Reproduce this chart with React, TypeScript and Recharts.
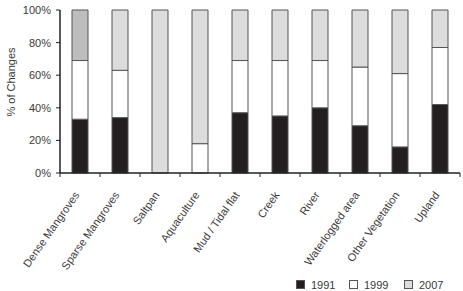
import React from 'react';
import { BarChart, Bar, XAxis, YAxis, Cell } from 'recharts';

const categories = ['Dense Mangroves', 'Sparse Mangroves', 'Saltpan', 'Aquaculture', 'Mud / Tidal flat', 'Creek', 'River', 'Waterlogged area', 'Other Vegetation', 'Upland'];
const v1991 = [33, 34, 0, 0, 37, 35, 40, 29, 16, 42];
const v1999 = [36, 29, 0, 18, 32, 34, 29, 36, 45, 35];
const v2007 = [31, 37, 100, 82, 31, 31, 31, 35, 39, 23];
const yTicks = [0, 20, 40, 60, 80, 100];
const seriesNames = ['1991', '1999', '2007'];

const data = categories.map((c, i) => ({ name: c, a: v1991[i], b: v1999[i], c: v2007[i] }));

const FONT = '"Liberation Sans", Arial, sans-serif';
const TXT = '#3a3a3a';
const AXIS = '#222';
const EDGE = '#555';
const BLACK = '#231f20';
const GRAY = '#dcdcdc';
const GRAY_DARK = '#bdbdbd';

const XTick = (props: any) => {
  const { x, y, payload, index, visibleTicksCount } = props;
  const off = payload && payload.offset ? payload.offset : 20;
  const isLast = index === (visibleTicksCount ?? categories.length) - 1;
  const tx = x;
  const ty = y + 22;
  return (
    <g>
      <line x1={x - off} x2={x - off} y1={y} y2={y + 4} stroke={AXIS} strokeWidth={1} />
      {isLast && <line x1={x + off} x2={x + off} y1={y} y2={y + 4} stroke={AXIS} strokeWidth={1} />}
      <text x={tx} y={ty} textAnchor="end" fontSize={11} fontFamily={FONT} fill={TXT} transform={`rotate(-55, ${tx}, ${ty})`}>
        {payload.value}
      </text>
    </g>
  );
};

const LegendBox = () => {
  const fills = [BLACK, '#ffffff', GRAY];
  const xs = [0, 53, 108];
  return (
    <svg width={170} height={14} style={{ position: 'absolute', left: 296, top: 276, overflow: 'visible' }}>
      {seriesNames.map((n, i) => (
        <g key={n}>
          <rect x={xs[i] + 0.5} y={4.5} width={8} height={8} fill={fills[i]} stroke={EDGE} strokeWidth={1} />
          <text x={xs[i] + 15} y={13} fontSize={11} fontFamily={FONT} fill={TXT}>{n}</text>
        </g>
      ))}
    </svg>
  );
};

export default function App() {
  return (
    <div style={{ position: 'absolute', left: 0, top: 0, width: 463, height: 291, background: '#fff', overflow: 'hidden' }}>
      <BarChart
        width={463}
        height={291}
        data={data}
        margin={{ top: 10, right: 3, left: 0, bottom: 18 }}
        barCategoryGap="30%"
      >
        <XAxis
          dataKey="name"
          interval={0}
          height={100}
          tickLine={false}
          tickSize={0}
          tickMargin={0}
          axisLine={{ stroke: AXIS, strokeWidth: 1.5 }}
          tick={<XTick />}
        />
        <YAxis
          width={60}
          domain={[0, 100]}
          ticks={yTicks}
          interval={0}
          tickFormatter={(v: number) => `${v}%`}
          tickSize={4}
          tickMargin={5}
          tickLine={{ stroke: AXIS }}
          axisLine={{ stroke: AXIS, strokeWidth: 1.5 }}
          tick={{ fontSize: 11, fontFamily: FONT, fill: TXT }}
          label={{
            content: () => (
              <text x={15} y={82} textAnchor="middle" fontSize={11} fontFamily={FONT} fill={TXT} transform="rotate(-90, 15, 82)">
                % of Changes
              </text>
            ),
          }}
        />
        <Bar dataKey="a" name="1991" stackId="s" fill={BLACK} stroke={EDGE} strokeWidth={1} isAnimationActive={false} />
        <Bar dataKey="b" name="1999" stackId="s" fill="#ffffff" stroke={EDGE} strokeWidth={1} isAnimationActive={false} />
        <Bar dataKey="c" name="2007" stackId="s" fill={GRAY} stroke={EDGE} strokeWidth={1} isAnimationActive={false}>
          {data.map((d, i) => (
            <Cell key={d.name} fill={i === 0 ? GRAY_DARK : GRAY} />
          ))}
        </Bar>
      </BarChart>
      <LegendBox />
    </div>
  );
}
